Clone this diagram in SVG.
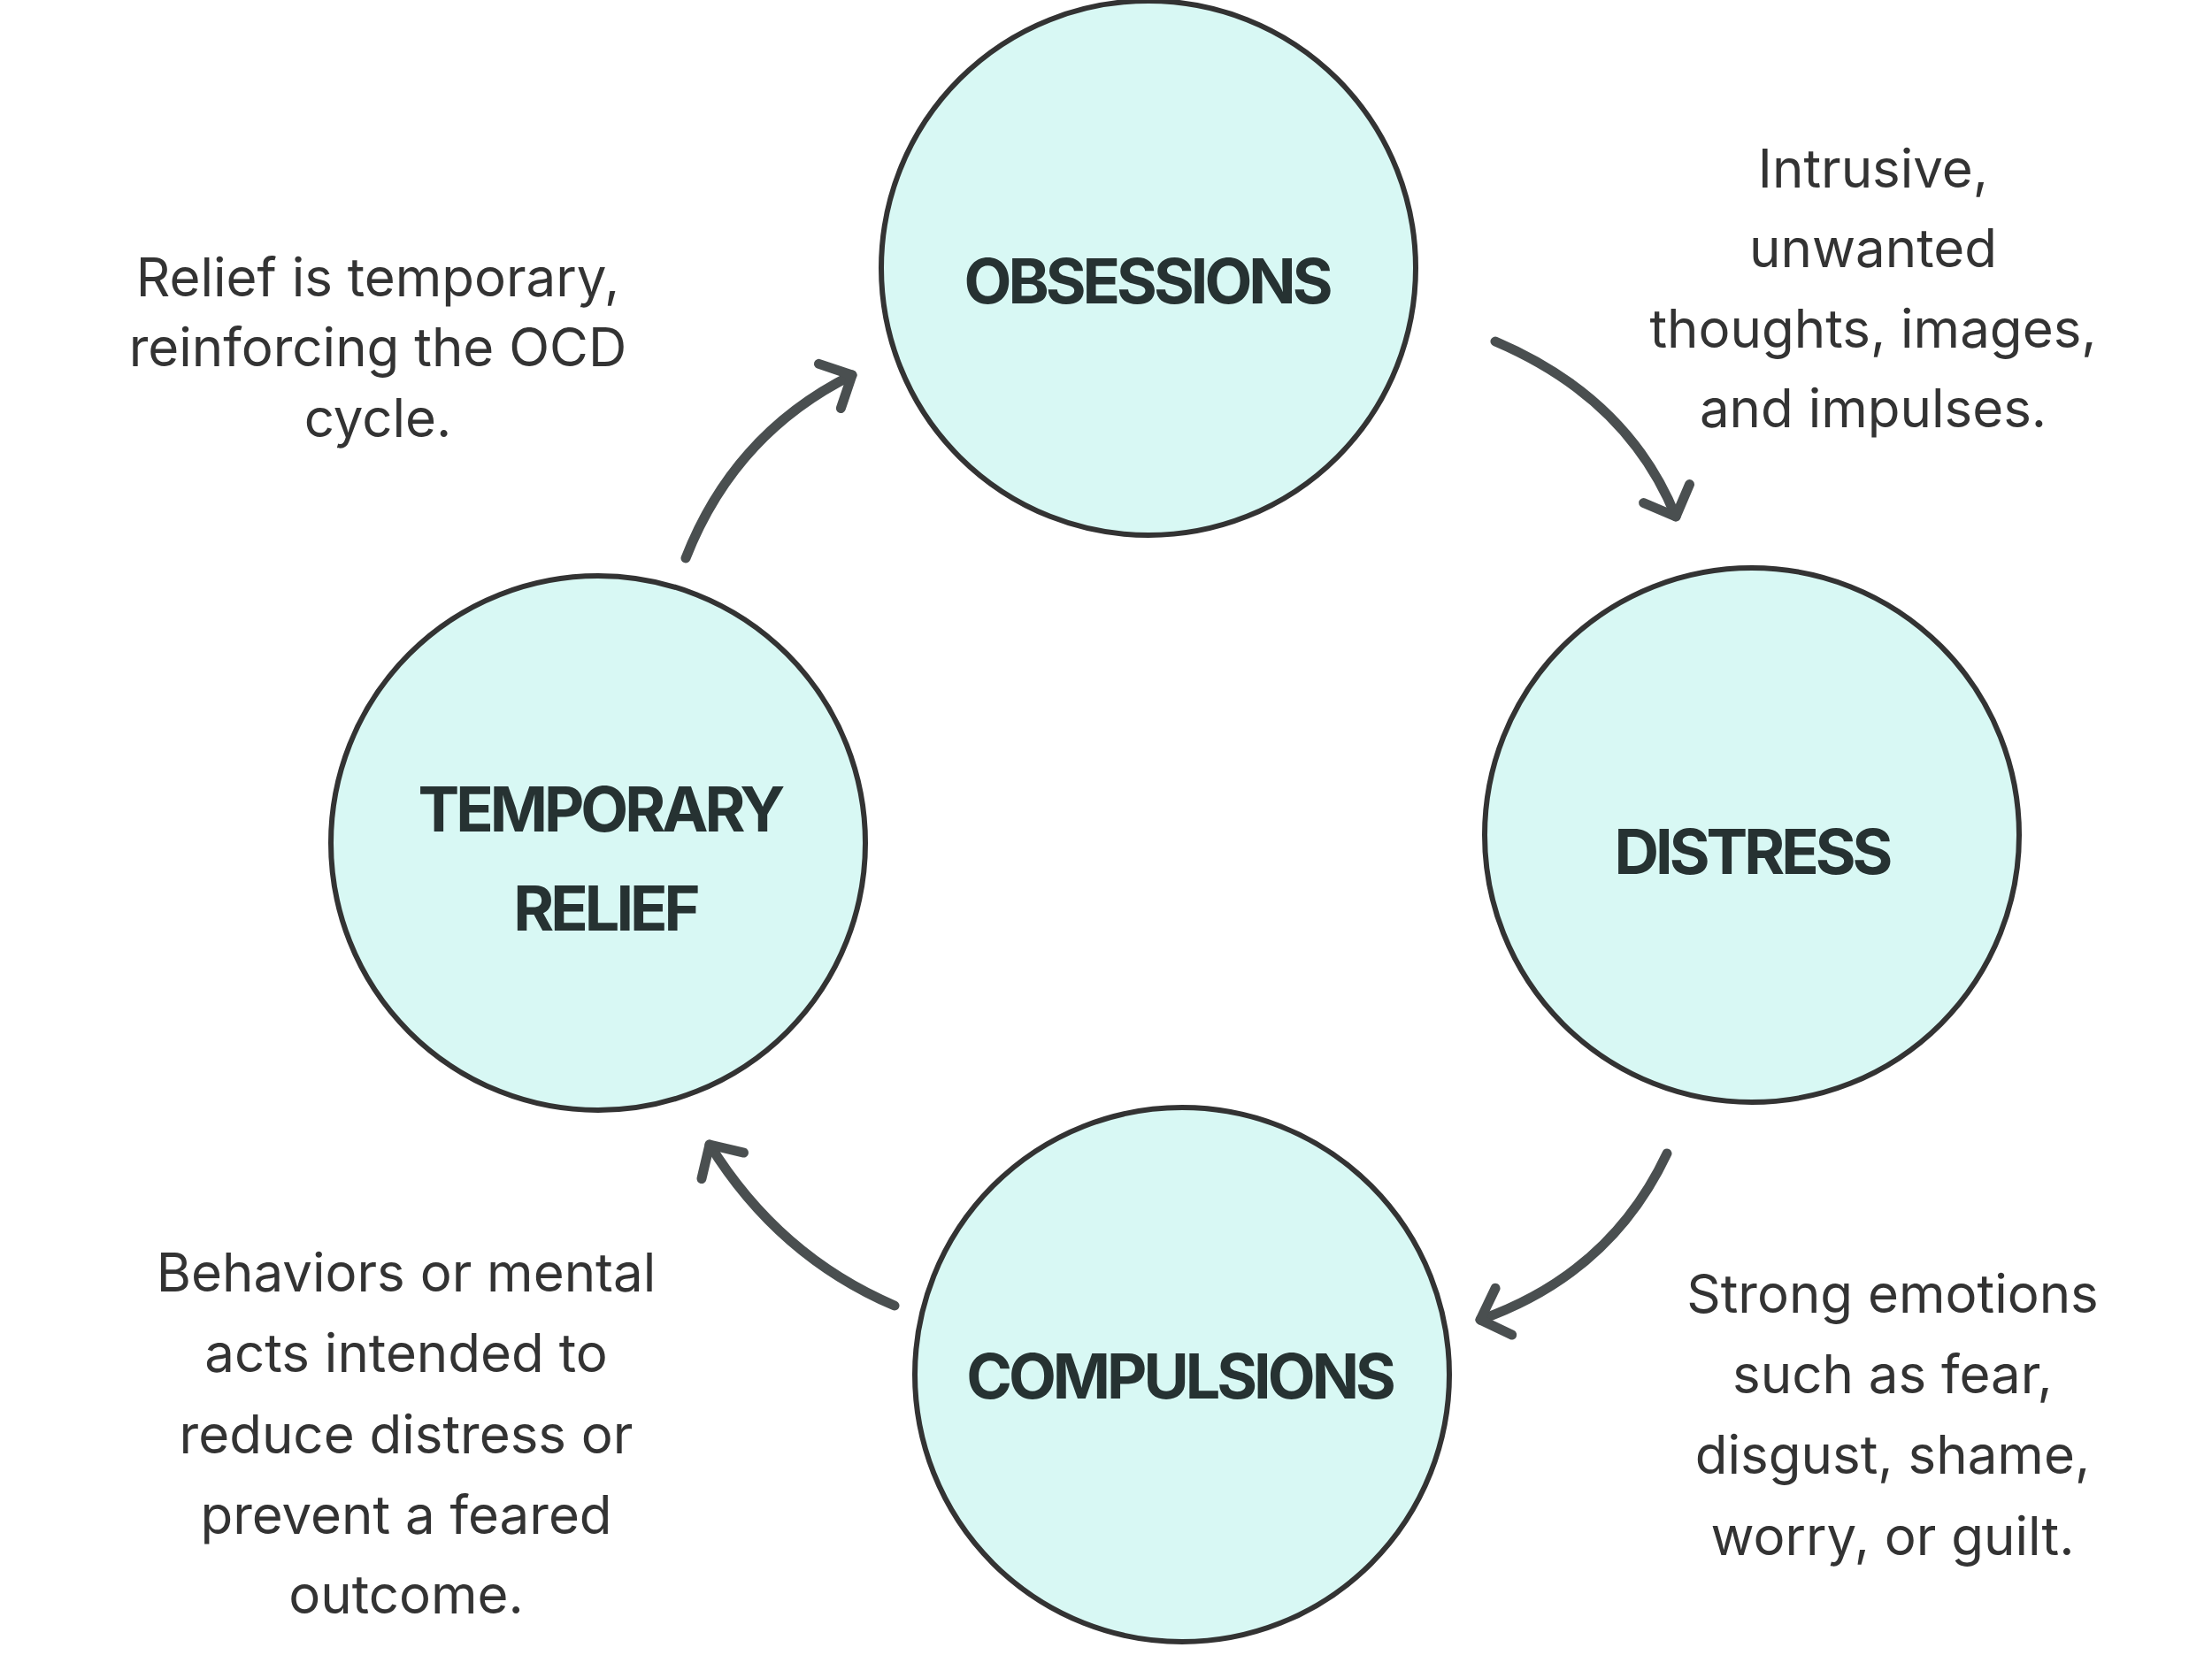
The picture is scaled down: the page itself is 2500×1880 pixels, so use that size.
<svg xmlns="http://www.w3.org/2000/svg" width="2500" height="1880" viewBox="0 0 2500 1880">
<defs>
<style>
.n{fill:#d8f8f4;stroke:#333;stroke-width:6}
.l{font-family:Inter,"Open Sans",sans-serif;font-weight:700;font-size:70px;fill:#263232;text-anchor:middle;letter-spacing:-4px}
.d{font-family:Inter,"Open Sans",sans-serif;font-size:60px;fill:#333;text-anchor:middle}
.c{fill:none;stroke:#4a4f50;stroke-width:11;stroke-linecap:round}
</style>
<marker id="a" markerUnits="userSpaceOnUse" markerWidth="80" markerHeight="80" refX="40" refY="40" orient="auto" viewBox="0 0 80 80">
<path d="M12 12 L40 40 L12 68" fill="none" stroke="#4a4f50" stroke-width="11" stroke-linecap="round" stroke-linejoin="round"/>
</marker>
</defs>
<rect width="2500" height="1880" fill="#fff"/>
<g id="connectors">
<path class="c" d="M1690 386 Q1840 450 1894 584" marker-end="url(#a)"/>
<path class="c" d="M1884 1304 Q1820 1440 1673 1492" marker-end="url(#a)"/>
<path class="c" d="M1011 1476 Q880 1420 802 1294" marker-end="url(#a)"/>
<path class="c" d="M775 631 Q830 490 963 424" marker-end="url(#a)"/>
</g>
<g id="obsessions"><circle class="n" cx="1298" cy="303" r="302"/><text class="l" x="1296" y="343">OBSESSIONS</text></g>
<g id="distress"><circle class="n" cx="1980" cy="944" r="302"/><text class="l" x="1980" y="988">DISTRESS</text></g>
<g id="compulsions"><circle class="n" cx="1336" cy="1554" r="302"/><text class="l" x="1333" y="1581">COMPULSIONS</text></g>
<g id="relief"><circle class="n" cx="676" cy="953" r="302"/><text class="l" x="678" y="940">TEMPORARY</text><text class="l" x="684" y="1052">RELIEF</text></g>
<g id="desc-obsessions"><text class="d" x="2117" y="212">Intrusive,</text><text class="d" x="2117" y="302">unwanted</text><text class="d" x="2117" y="393">thoughts, images,</text><text class="d" x="2117" y="483">and impulses.</text></g>
<g id="desc-relief"><text class="d" x="427" y="335">Relief is temporary,</text><text class="d" x="427" y="414">reinforcing the OCD</text><text class="d" x="427" y="494">cycle.</text></g>
<g id="desc-compulsions"><text class="d" x="459" y="1460">Behaviors or mental</text><text class="d" x="459" y="1551">acts intended to</text><text class="d" x="459" y="1643">reduce distress or</text><text class="d" x="459" y="1734">prevent a feared</text><text class="d" x="459" y="1824">outcome.</text></g>
<g id="desc-distress"><text class="d" x="2139" y="1484">Strong emotions</text><text class="d" x="2139" y="1575">such as fear,</text><text class="d" x="2139" y="1666">disgust, shame,</text><text class="d" x="2139" y="1758">worry, or guilt.</text></g>
</svg>
